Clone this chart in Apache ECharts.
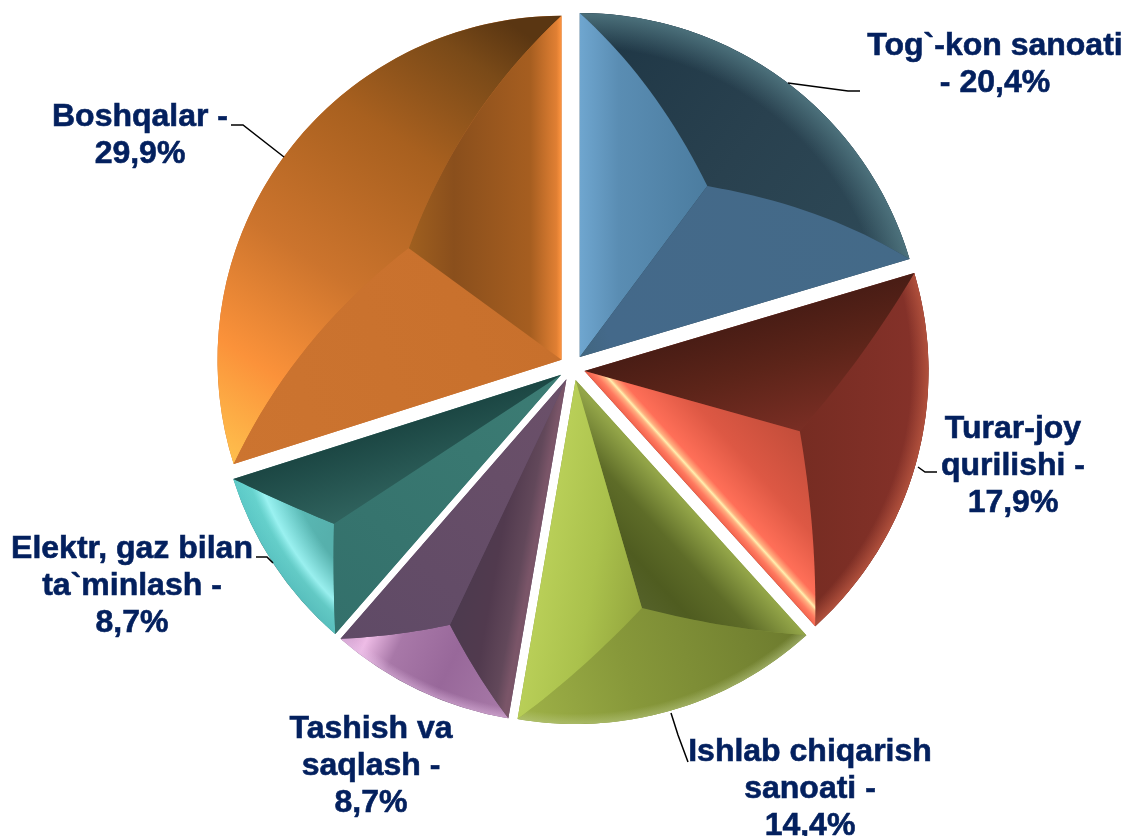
<!DOCTYPE html>
<html>
<head>
<meta charset="utf-8">
<title>Pie</title>
<script src="https://cdn.jsdelivr.net/npm/echarts@6/dist/echarts.min.js"></script>
<style>
  html, body { margin: 0; padding: 0; background: #fff; }
  #main { width: 1125px; height: 836px; }
</style>
</head>
<body>
<div id="main"></div>
<script>
// data, clockwise from 12 o'clock
var labelHeads = ['Tog`-kon sanoati\n- ', 'Turar-joy\nqurilishi -\n', 'Ishlab chiqarish\nsanoati -\n', 'Tashish va\nsaqlash -\n', 'Elektr, gaz bilan\nta`minlash -\n', 'Boshqalar -\n'];
var values = [20.4, 17.9, 14.4, 8.7, 8.7, 29.9];

// pie geometry
var CX = 572, CY = 367.5, R = 344, SHIFT = 13;
var baseColors = ['#2c4656', '#7c2f25', '#87983a', '#5f4a66', '#36716c', '#c8702c'];
// inner corner of each slice as a share of the radius, and how much its ridges bend
var innerFrac = [0.62, 0.65, 0.69, 0.79, 0.79, 0.55];
var ridgeBow = [0.10, 0.05, 0.05, 0.05, 0.02, 0.12];

// label placement: centre of the text block and leader line points
var labelPos = [[995, 65], [1013, 466], [810, 789], [371, 766], [132, 586], [140, 136]];
var leaders = [
  [[788, 83], [848, 91], [860, 91]],
  [[918, 467], [925, 472], [937, 472]],
  [[671, 713], [678, 735], [688, 762]],
  null,
  [[273, 563], [267, 557], [256, 557]],
  [[284, 157], [243, 125], [231, 125]]
];

function lin(x1, y1, x2, y2, stops) {
  return new echarts.graphic.LinearGradient(x1, y1, x2, y2, stops.map(function (s) {
    return { offset: s[0], color: s[1] };
  }), true);
}

// shading of the three faces of each slice: start side, end side, outer face, rim ring
var shades = [
  {
    start: lin(580, 0, 709, 0, [[0, '#6fa6cf'], [0.3, '#5a8db3'], [1, '#4b7c9f']]),
    end: lin(580, 357, 905, 262, [[0, '#41667f'], [0.1, '#44698a'], [1, '#446a88']]),
    arc: lin(590, 20, 905, 262, [[0, '#1e3645'], [0.5, '#29414f'], [1, '#2e4a58']]),
    rim: [[0.9, 'rgba(80,118,128,0)'], [1, 'rgba(80,118,128,0.9)']]
  },
  {
    start: lin(585, 372, 618, 485, [[0, '#4a1d15'], [0.4, '#5c2419'], [1, '#7a2e24']]),
    end: lin(585, 372, 675, 291, [[0, '#f0604a'], [0.05, '#ff7a60'], [0.09, '#ffb080'], [0.11, '#fff0b0'], [0.13, '#ffb080'], [0.18, '#ff6f58'], [0.5, '#dd5844'], [1, '#c24d3a']]),
    arc: lin(800, 430, 925, 430, [[0, '#762c22'], [1, '#86322a']]),
    rim: [[0.95, 'rgba(176,80,60,0)'], [1, 'rgba(176,80,60,1)']]
  },
  {
    start: lin(574, 382, 497, 452, [[0, '#93a548'], [0.35, '#5e6c28'], [0.7, '#4f5c20'], [1, '#55622a']]),
    end: lin(574, 382, 678, 400, [[0, '#b9cf58'], [0.5, '#aac14c'], [1, '#94a63e']]),
    arc: lin(515, 722, 805, 635, [[0, '#a0b348'], [0.4, '#87983a'], [1, '#6c7a2e']]),
    rim: [[0.97, 'rgba(190,205,140,0)'], [1, 'rgba(190,205,140,0.5)']]
  },
  {
    start: lin(563, 385, 496, 373, [[0, '#7a5568'], [0.15, '#62485a'], [0.5, '#513a4e'], [1, '#4c3a4e']]),
    end: lin(563, 385, 340, 640, [[0, '#6b5069'], [1, '#5f4a66']]),
    arc: lin(340, 640, 505, 720, [[0, '#c795c5'], [0.13, '#eebce6'], [0.3, '#a878a8'], [0.6, '#98689a'], [1, '#a87aa8']]),
    rim: [[0.97, 'rgba(230,190,230,0)'], [1, 'rgba(230,190,230,0.5)']]
  },
  {
    start: lin(555, 378, 335, 632, [[0, '#3c7c74'], [1, '#33706b']]),
    end: lin(555, 378, 576, 444, [[0, '#1c4744'], [1, '#2f625d']]),
    arc: lin(232, 480, 335, 520, [[0, '#60c8c4'], [1, '#56b0ac']]),
    rim: [[0.85, 'rgba(160,255,255,0)'], [0.93, 'rgba(170,255,255,0.8)'], [0.96, 'rgba(110,225,220,0.5)'], [1, 'rgba(90,205,205,0.5)']]
  },
  {
    start: lin(232, 462, 561, 360, [[0, '#cc7430'], [1, '#c8702c']]),
    end: lin(408, 0, 561, 0, [[0, '#a0601f'], [0.3, '#8a4f1c'], [0.8, '#a65e20'], [0.97, '#e07f33'], [1, '#fb923d']]),
    arc: lin(225, 470, 520, 30, [[0, '#ffc44f'], [0.2, '#fb923a'], [0.42, '#cc742d'], [0.7, '#a8601f'], [0.9, '#7a4a18'], [1, '#5a3612']]),
    rim: [[0.97, 'rgba(255,255,255,0)'], [1, 'rgba(255,255,255,0)']]
  }
];

var total = values.reduce(function (a, b) { return a + b; }, 0);
function sliceGeom(i) {
  var before = 0;
  for (var k = 0; k < i; k++) before += values[k];
  var a0 = before / total * Math.PI * 2;
  var a1 = (before + values[i]) / total * Math.PI * 2;
  var mid = (a0 + a1) / 2;
  return { a0: a0, a1: a1, mid: mid, ax: CX + SHIFT * Math.sin(mid), ay: CY - SHIFT * Math.cos(mid) };
}
function onArc(g, ang, r) {
  return [g.ax + r * Math.sin(ang), g.ay - r * Math.cos(ang)];
}
// bent ridge line between a slice corner and the inner corner
function ridge(from, to, g, k) {
  var dx = to[0] - from[0], dy = to[1] - from[1];
  var bow = Math.sqrt(dx * dx + dy * dy) * k;
  var cx = (from[0] + to[0]) / 2 + bow * Math.sin(g.mid);
  var cy = (from[1] + to[1]) / 2 - bow * Math.cos(g.mid);
  var pts = [];
  for (var t = 0; t <= 1.001; t += 0.05) {
    var u = 1 - t;
    pts.push([u * u * from[0] + 2 * u * t * cx + t * t * to[0], u * u * from[1] + 2 * u * t * cy + t * t * to[1]]);
  }
  return pts;
}

function labelText(i) {
  return labelHeads[i] + values[i].toFixed(1).replace('.', ',') + '%';
}

function renderSlice(params) {
  var i = params.dataIndex;
  var g = sliceGeom(i);
  var sh = shades[i];
  var A = [g.ax, g.ay];
  var S = onArc(g, g.a0, R);
  var E = onArc(g, g.a1, R);
  var I = onArc(g, g.mid, R * innerFrac[i]);
  var k = ridgeBow[i];
  var outer = [];
  for (var n = 0; n <= 60; n++) {
    outer.push(onArc(g, g.a0 + (g.a1 - g.a0) * n / 60, R));
  }
  var arcFace = outer.concat(ridge(E, I, g, k).slice(1)).concat(ridge(I, S, g, k).slice(1, -1));
  var rimFill = new echarts.graphic.RadialGradient(g.ax, g.ay, R, sh.rim.map(function (s) {
    return { offset: s[0], color: s[1] };
  }), true);
  var children = [
    { type: 'polygon', shape: { points: arcFace }, style: { fill: sh.arc } },
    { type: 'polygon', shape: { points: arcFace }, style: { fill: rimFill } },
    { type: 'polygon', shape: { points: [A].concat(ridge(S, I, g, k)) }, style: { fill: sh.start } },
    { type: 'polygon', shape: { points: [A].concat(ridge(I, E, g, k)) }, style: { fill: sh.end } },
    {
      type: 'text',
      z2: 10,
      style: {
        text: labelText(i),
        x: labelPos[i][0],
        y: labelPos[i][1],
        fill: '#03205e',
        stroke: '#03205e',
        lineWidth: 0.6,
        font: 'bold 32px "Liberation Sans", Arial, sans-serif',
        lineHeight: 37,
        align: 'center',
        verticalAlign: 'middle'
      }
    }
  ];
  if (leaders[i]) {
    children.push({
      type: 'polyline',
      z2: 10,
      shape: { points: leaders[i] },
      style: { stroke: '#000', lineWidth: 1.5, fill: null }
    });
  }
  return { type: 'group', silent: true, children: children };
}

var myChart = echarts.init(document.getElementById('main'));
myChart.setOption({
  animation: false,
  series: [{
    type: 'pie',
    center: [CX, CY],
    radius: R,
    startAngle: 90,
    clockwise: true,
    selectedMode: 'multiple',
    selectedOffset: SHIFT,
    z: 2,
    emphasis: { disabled: true },
    select: { itemStyle: { borderWidth: 0 } },
    label: { show: false },
    labelLine: { show: false },
    data: values.map(function (v, i) {
      return {
        name: labelText(i),
        value: v,
        selected: true,
        itemStyle: { color: baseColors[i] }
      };
    })
  }, {
    type: 'custom',
    coordinateSystem: 'none',
    silent: true,
    z: 3,
    renderItem: renderSlice,
    data: values
  }]
});
</script>
</body>
</html>
